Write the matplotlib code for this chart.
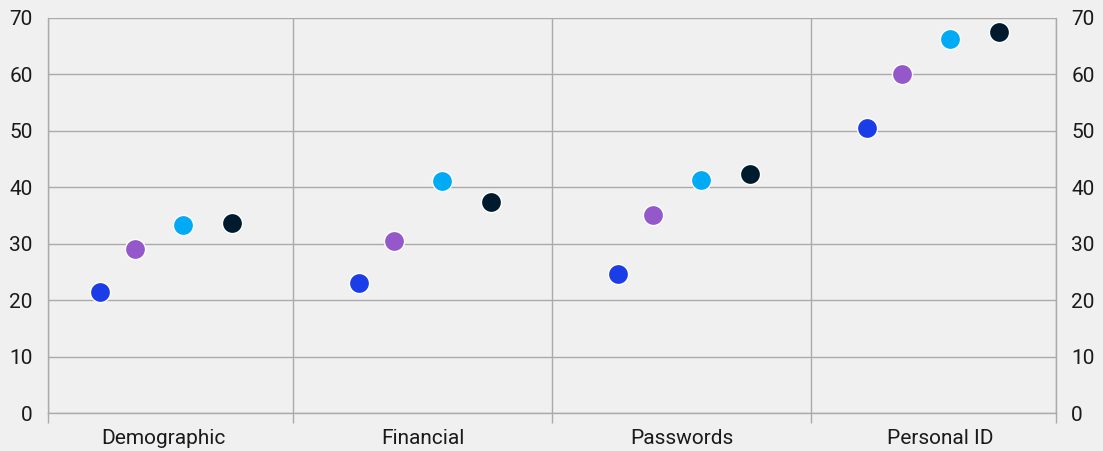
import matplotlib.pyplot as plt
import numpy as np

categories = ['Demographic', 'Financial', 'Passwords', 'Personal ID']
group_pos = [0, 1, 2, 2.96]

# one series per colour, values read per category
series_a = [21.5, 23.1, 24.7, 50.5]
series_b = [29.1, 30.5, 35.1, 60.0]
series_c = [33.4, 41.1, 41.2, 66.2]
series_d = [33.6, 37.4, 42.3, 67.4]

colors = ['#1b3de8', '#9558cb', '#00aaf5', '#001b2e']
offsets = [-0.245, -0.11, 0.075, 0.265]

plt.rcParams['font.family'] = ['Roboto', 'DejaVu Sans']
text_col = '#1a1a1a'
line_col = '#aaaaaa'

fig = plt.figure(figsize=(11.03, 4.51), dpi=100, facecolor='#f0f0f0')
ax = fig.add_axes([48 / 1103, 1 - 413.3 / 451, (1056 - 48) / 1103, (413.3 - 17.7) / 451])
ax.set_facecolor('#f0f0f0')

gx = np.array(group_pos)
for vals, col, off in zip([series_a, series_b, series_c, series_d], colors, offsets):
    ax.scatter(gx + off, vals, s=210, color=col, edgecolor='white', linewidth=1.0,
               zorder=3, clip_on=False)

left, right = -0.446, 3.446
ax.set_xlim(left, right)
ax.set_ylim(0, 70)

ax.set_xticks(np.arange(len(categories)))
ax.set_xticklabels(categories, fontsize=15, color=text_col)
ax.set_xticks([left, 0.5, 1.5, 2.5, right], minor=True)
ax.tick_params(axis='x', which='major', length=0, pad=11)
ax.tick_params(axis='x', which='minor', length=7.5, width=1, color=line_col)
ax.grid(axis='x', which='minor', color=line_col, linewidth=1)

ax.set_yticks(np.arange(0, 71, 10))
ax.tick_params(axis='y', length=0, labelsize=15, labelcolor=text_col, pad=11,
               left=True, right=True, labelleft=True, labelright=True)
ax.grid(axis='y', color=line_col, linewidth=1)
ax.set_axisbelow(True)

ax.spines['top'].set_visible(False)
for s in ['bottom', 'left', 'right']:
    ax.spines[s].set_color(line_col)
    ax.spines[s].set_linewidth(1)

fig.savefig('out.png', dpi=100, facecolor=fig.get_facecolor())
